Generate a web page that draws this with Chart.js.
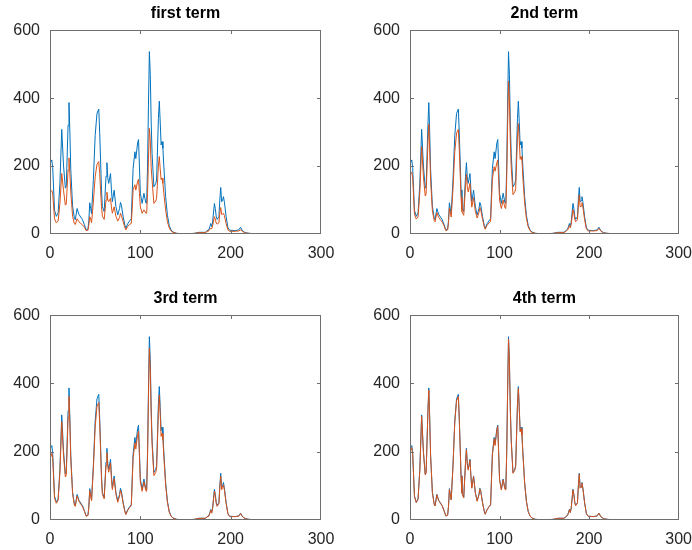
<!DOCTYPE html>
<html>
<head>
<meta charset="utf-8">
<script src="https://cdn.jsdelivr.net/npm/chart.js@4.4.1/dist/chart.umd.min.js"></script>
<style>
  html, body { margin: 0; padding: 0; background: #ffffff; }
  body { position: relative; width: 692px; height: 550px; overflow: hidden; }
  canvas { position: absolute; }
</style>
</head>
<body>
<canvas id="c0"></canvas>
<canvas id="c1"></canvas>
<canvas id="c2"></canvas>
<canvas id="c3"></canvas>

<script>
/* ----------------------------------------------------------
   DATOS (señal original + 4 aproximaciones)
---------------------------------------------------------- */
const TITLES  = ['first term', '2nd term', '3rd term', '4th term'];
const X_TICKS = [0, 100, 200, 300];
const Y_TICKS = [0, 200, 400, 600];

const X = [
  1, 2, 3, 5, 7, 9, 11, 13, 15, 17,
  18, 20, 21, 22, 23, 25, 27, 28, 30, 32,
  34, 36, 38, 40, 42, 43, 44, 45, 46, 48,
  50, 52, 54, 55, 56, 57, 58, 60, 62, 63,
  64, 65, 67, 68, 69, 71, 73, 75, 77, 78,
  79, 81, 83, 84, 86, 88, 90, 91, 92, 94,
  95, 97, 98, 99, 100, 102, 104, 106, 107, 108,
  109, 110, 111, 112, 113, 115, 117, 118, 120, 121,
  122, 123, 124, 125, 126, 128, 130, 132, 134, 136,
  140, 150, 160, 165, 172, 175, 176, 177, 178, 179,
  180, 182, 183, 184, 185, 187, 188, 189, 190, 191,
  192, 193, 195, 197, 199, 205, 209, 211, 213, 216,
  220, 230, 258,
];

const ORIGINAL = [
  212, 218, 195, 70, 52, 62, 150, 308, 200, 135,
  140, 320, 387, 300, 190, 82, 47, 42, 75, 58,
  50, 42, 28, 12, 14, 40, 92, 75, 60, 160,
  290, 355, 368, 300, 218, 130, 80, 66, 170, 210,
  165, 149, 178, 130, 95, 129, 80, 56, 75, 93,
  85, 51, 25, 17, 30, 38, 45, 120, 193, 242,
  222, 268, 278, 200, 120, 90, 120, 92, 90, 200,
  380, 537, 470, 330, 237, 139, 148, 159, 340, 391,
  330, 262, 272, 252, 200, 110, 55, 25, 12, 6,
  2, 0, 2, 5, 5, 12, 14, 22, 31, 22,
  35, 90, 75, 52, 43, 51, 100, 137, 95, 98,
  110, 95, 51, 18, 11, 10, 12, 20, 10, 4,
  2, 0, 0,
];

const TERM_1 = [
  125, 128, 118, 45, 33, 38, 90, 178, 128, 85,
  88, 188, 224, 178, 124, 52, 30, 28, 45, 36,
  31, 27, 20, 10, 11, 26, 51, 44, 33, 94,
  168, 205, 213, 178, 128, 80, 52, 43, 100, 123,
  100, 95, 105, 80, 61, 80, 52, 38, 48, 61,
  55, 36, 18, 12, 22, 28, 31, 75, 130, 145,
  129, 155, 161, 120, 80, 61, 71, 62, 61, 120,
  220, 311, 275, 195, 159, 90, 97, 105, 200, 228,
  192, 160, 165, 149, 120, 71, 36, 18, 9, 5,
  2, 0, 2, 4, 4, 9, 10, 14, 17, 15,
  24, 51, 44, 32, 29, 33, 62, 78, 58, 58,
  61, 55, 30, 12, 8, 8, 9, 12, 8, 3,
  2, 0, 0,
];

const TERM_2 = [
  178, 182, 165, 58, 44, 50, 124, 257, 168, 112,
  118, 268, 323, 250, 158, 68, 40, 36, 63, 49,
  42, 35, 24, 10, 12, 33, 77, 63, 50, 133,
  242, 297, 308, 250, 180, 108, 66, 55, 142, 176,
  138, 124, 149, 108, 79, 107, 66, 47, 63, 78,
  71, 43, 21, 14, 25, 32, 38, 100, 162, 198,
  185, 210, 218, 165, 100, 75, 100, 77, 75, 165,
  318, 450, 395, 276, 198, 116, 124, 133, 284, 325,
  275, 220, 228, 218, 168, 92, 46, 21, 10, 5,
  2, 0, 2, 4, 4, 10, 12, 18, 25, 18,
  29, 72, 62, 43, 36, 42, 82, 115, 80, 82,
  92, 80, 42, 15, 9, 9, 10, 17, 9, 3,
  2, 0, 0,
];

const TERM_3 = [
  185, 195, 180, 64, 49, 58, 140, 288, 188, 126,
  132, 300, 362, 282, 178, 77, 44, 40, 71, 55,
  47, 39, 26, 11, 13, 37, 86, 70, 56, 150,
  272, 333, 344, 282, 204, 122, 75, 62, 160, 197,
  155, 140, 167, 122, 89, 121, 75, 52, 70, 87,
  80, 48, 23, 16, 28, 36, 42, 112, 181, 226,
  208, 250, 260, 187, 112, 84, 112, 86, 84, 187,
  356, 503, 440, 309, 222, 130, 139, 149, 318, 366,
  309, 245, 254, 235, 187, 103, 51, 23, 11, 6,
  2, 0, 2, 5, 5, 11, 13, 20, 29, 20,
  33, 85, 70, 49, 40, 48, 94, 128, 89, 92,
  103, 89, 48, 17, 10, 10, 11, 19, 10, 4,
  2, 0, 0,
];

const TERM_4 = [
  205, 212, 192, 68, 51, 61, 147, 303, 197, 132,
  138, 315, 381, 295, 187, 80, 46, 41, 74, 57,
  49, 41, 27, 12, 14, 39, 90, 74, 59, 157,
  285, 349, 362, 295, 214, 128, 79, 65, 167, 206,
  162, 146, 175, 128, 93, 127, 79, 55, 74, 91,
  84, 50, 25, 17, 30, 38, 44, 118, 190, 238,
  218, 264, 274, 196, 118, 88, 118, 90, 88, 196,
  374, 530, 463, 325, 233, 137, 146, 157, 335, 385,
  325, 258, 268, 248, 197, 108, 54, 25, 12, 6,
  2, 0, 2, 5, 5, 12, 14, 21, 30, 22,
  35, 88, 74, 51, 42, 50, 98, 134, 93, 96,
  108, 93, 50, 18, 11, 10, 12, 20, 10, 4,
  2, 0, 0,
];

const TERMS = [TERM_1, TERM_2, TERM_3, TERM_4];

/* ----------------------------------------------------------
   ESTILO (colores por defecto de MATLAB)
---------------------------------------------------------- */
const BLUE   = '#0072BD';
const ORANGE = '#D95319';
const INK    = '#262626';
const FRAME  = '#6e6e6e';
const FONT   = "'Liberation Sans', Arial, Helvetica, sans-serif";

// posición de cada subgráfico: [left, top, width, height, padRight]
const PANELS = [
  [0,   0,   335, 264, 14],
  [360, 0,   332, 264, 12],
  [0,   285, 335, 265, 14],
  [360, 285, 332, 265, 12],
];

/* ----------------------------------------------------------
   HELPERS
---------------------------------------------------------- */
function toPoints(ys) {
  return X.map((x, i) => ({ x, y: ys[i] }));
}

// caja completa + marcas hacia dentro, como en MATLAB (rectángulos de 1 px)
const boxPlugin = {
  id: 'matlabBox',
  afterDraw(chart) {
    const { ctx, chartArea: a, scales } = chart;
    const L = Math.round(a.left), R = Math.round(a.right) - 1;
    const T = Math.round(a.top),  B = Math.round(a.bottom) - 1;
    const tk = 4;
    ctx.save();
    ctx.fillStyle = FRAME;
    ctx.fillRect(L, T, R - L + 1, 1);
    ctx.fillRect(L, B, R - L + 1, 1);
    ctx.fillRect(L, T, 1, B - T + 1);
    ctx.fillRect(R, T, 1, B - T + 1);
    X_TICKS.forEach(v => {
      const px = Math.min(Math.round(scales.x.getPixelForValue(v)), R);
      ctx.fillRect(px, B - tk + 1, 1, tk);
      ctx.fillRect(px, T, 1, tk);
    });
    Y_TICKS.forEach(v => {
      const py = Math.min(Math.round(scales.y.getPixelForValue(v)), B);
      ctx.fillRect(L, py, tk, 1);
      ctx.fillRect(R - tk + 1, py, tk, 1);
    });
    ctx.restore();
  },
};

/* ----------------------------------------------------------
   SUBGRÁFICOS
---------------------------------------------------------- */
function renderPanel(i) {
  const [left, top, w, h, padR] = PANELS[i];
  const canvas = document.getElementById('c' + i);
  canvas.width  = w;
  canvas.height = h;
  canvas.style.left = left + 'px';
  canvas.style.top  = top + 'px';

  const tickFont = { family: FONT, size: 16 };

  new Chart(canvas.getContext('2d'), {
    type: 'line',
    data: {
      datasets: [
        {
          label: 'original',
          data: toPoints(ORIGINAL),
          borderColor: BLUE,
          borderWidth: 1,
          pointRadius: 0,
          tension: 0,
          order: 1,
        },
        {
          label: TITLES[i],
          data: toPoints(TERMS[i]),
          borderColor: ORANGE,
          borderWidth: 1,
          pointRadius: 0,
          tension: 0,
          order: 0,
        },
      ],
    },
    options: {
      responsive: false,
      animation: false,
      events: [],
      layout: { padding: { left: 0, right: padR, top: 0, bottom: 0 } },
      plugins: {
        legend:  { display: false },
        tooltip: { enabled: false },
        title: {
          display: true,
          text: TITLES[i],
          fullSize: false,
          color: '#000000',
          font: { family: FONT, size: 16, weight: 'bold', lineHeight: 1.2 },
          padding: { top: 4, bottom: 7 },
        },
      },
      scales: {
        x: {
          type: 'linear',
          min: 0,
          max: 300,
          afterBuildTicks: s => { s.ticks = X_TICKS.map(v => ({ value: v })); },
          afterFit: s => { s.height = 30; },
          // la separación de las etiquetas va en tickLength (padding 0 evita relleno lateral extra)
          grid:   { display: false, drawTicks: true, tickLength: 10 },
          border: { display: false },
          ticks:  { font: tickFont, color: INK, padding: 0, maxRotation: 0 },
        },
        y: {
          min: 0,
          max: 600,
          afterBuildTicks: s => { s.ticks = Y_TICKS.map(v => ({ value: v })); },
          afterFit: s => { s.width = 50; },
          grid:   { display: false, drawTicks: true, tickLength: 10 },
          border: { display: false },
          ticks:  { font: tickFont, color: INK, padding: 0 },
        },
      },
    },
    plugins: [boxPlugin],
  });
}

/* ----------------------------------------------------------
   INICIALIZACIÓN
---------------------------------------------------------- */
TITLES.forEach((_, i) => renderPanel(i));
</script>
</body>
</html>
